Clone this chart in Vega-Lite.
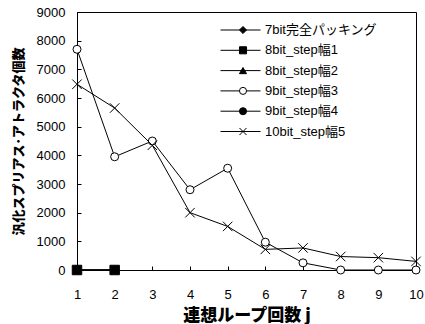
{
  "$schema": "https://vega.github.io/schema/vega-lite/v6.json",
  "width": 339,
  "height": 258,
  "autosize": {"type": "none"},
  "padding": {"left": 77, "top": 12, "right": 9, "bottom": 54},
  "background": "white",
  "config": {
    "view": {"stroke": "black", "strokeWidth": 1},
    "font": "'Liberation Sans', 'Noto Sans CJK JP'"
  },
  "data": {
    "values": [
      {"series": "7bit完全パッキング", "j": 1, "value": 0},
      {"series": "7bit完全パッキング", "j": 2, "value": 0},
      {"series": "8bit_step幅2", "j": 1, "value": 0},
      {"series": "8bit_step幅2", "j": 2, "value": 0},
      {"series": "9bit_step幅4", "j": 1, "value": 0},
      {"series": "9bit_step幅4", "j": 2, "value": 0},
      {"series": "8bit_step幅1", "j": 1, "value": 0},
      {"series": "8bit_step幅1", "j": 2, "value": 0},
      {"series": "9bit_step幅3", "j": 1, "value": 7700},
      {"series": "9bit_step幅3", "j": 2, "value": 3950},
      {"series": "9bit_step幅3", "j": 3, "value": 4500},
      {"series": "9bit_step幅3", "j": 4, "value": 2800},
      {"series": "9bit_step幅3", "j": 5, "value": 3550},
      {"series": "9bit_step幅3", "j": 6, "value": 970},
      {"series": "9bit_step幅3", "j": 7, "value": 250},
      {"series": "9bit_step幅3", "j": 8, "value": 0},
      {"series": "9bit_step幅3", "j": 9, "value": 0},
      {"series": "9bit_step幅3", "j": 10, "value": 0},
      {"series": "10bit_step幅5", "j": 1, "value": 6480},
      {"series": "10bit_step幅5", "j": 2, "value": 5650},
      {"series": "10bit_step幅5", "j": 3, "value": 4350},
      {"series": "10bit_step幅5", "j": 4, "value": 2000},
      {"series": "10bit_step幅5", "j": 5, "value": 1520},
      {"series": "10bit_step幅5", "j": 6, "value": 720},
      {"series": "10bit_step幅5", "j": 7, "value": 770},
      {"series": "10bit_step幅5", "j": 8, "value": 470},
      {"series": "10bit_step幅5", "j": 9, "value": 430},
      {"series": "10bit_step幅5", "j": 10, "value": 300}
    ]
  },
  "encoding": {
    "x": {
      "field": "j",
      "type": "quantitative",
      "scale": {"domain": [1, 10], "nice": false, "zero": false},
      "axis": {
        "values": [1, 2, 3, 4, 5, 6, 7, 8, 9, 10],
        "format": "d",
        "title": "連想ループ回数 j",
        "grid": false,
        "tickSize": -4,
        "tickColor": "black",
        "domainColor": "black",
        "labelColor": "black",
        "labelFontSize": 13,
        "labelFont": "'Liberation Sans'",
        "labelPadding": 22,
        "labelFlush": false,
        "titleFont": "'Noto Sans CJK JP'",
        "titleFontSize": 17,
        "titleFontWeight": 900,
        "titleColor": "black",
        "titlePadding": 6
      }
    },
    "y": {
      "field": "value",
      "type": "quantitative",
      "scale": {"domain": [0, 9000], "nice": false},
      "axis": {
        "values": [0, 1000, 2000, 3000, 4000, 5000, 6000, 7000, 8000, 9000],
        "format": "d",
        "title": "汎化スプリアス･アトラクタ個数",
        "grid": false,
        "tickSize": -4,
        "tickColor": "black",
        "domainColor": "black",
        "labelColor": "black",
        "labelFontSize": 13,
        "labelFont": "'Liberation Sans'",
        "labelPadding": 16,
        "titleFont": "'Noto Sans CJK JP'",
        "titleFontSize": 13,
        "titleFontWeight": 900,
        "titleColor": "black",
        "titlePadding": 11
      }
    }
  },
  "layer": [
    {
      "mark": {"type": "line", "strokeWidth": 1},
      "encoding": {
        "color": {
          "field": "series",
          "type": "nominal",
          "sort": ["7bit完全パッキング", "8bit_step幅1", "8bit_step幅2", "9bit_step幅3", "9bit_step幅4", "10bit_step幅5"],
          "scale": {"range": ["black", "black", "black", "black", "black", "black"]},
          "legend": {
            "orient": "none",
            "legendX": 143,
            "legendY": 10,
            "title": null,
            "padding": 0,
            "symbolType": "stroke",
            "symbolSize": 1600,
            "symbolStrokeWidth": 1,
            "symbolStrokeColor": "black",
            "labelFontSize": 13,
            "labelColor": "black",
            "labelFont": "'Liberation Sans', 'Noto Sans CJK JP'",
            "labelOffset": 4,
            "labelLimit": 200,
            "clipHeight": 16,
            "rowPadding": 4.3
          }
        }
      }
    },
    {
      "mark": {"type": "point", "filled": true, "opacity": 1, "strokeWidth": 1},
      "encoding": {
        "shape": {
          "field": "series",
          "type": "nominal",
          "scale": {
            "domain": ["7bit完全パッキング", "8bit_step幅1", "8bit_step幅2", "9bit_step幅3", "9bit_step幅4", "10bit_step幅5"],
            "range": ["diamond", "square", "triangle-up", "circle", "circle", "M-1,-1L1,1M-1,1L1,-1"]
          },
          "legend": {
            "orient": "none",
            "legendX": 159.5,
            "legendY": 10,
            "title": null,
            "padding": 0,
            "symbolSize": 50,
            "symbolStrokeWidth": 1,
            "symbolOpacity": 1,
            "labelFontSize": 13,
            "labelExpr": "''",
            "clipHeight": 16,
            "rowPadding": 4.3
          }
        },
        "fill": {
          "field": "series",
          "type": "nominal",
          "scale": {
            "domain": ["7bit完全パッキング", "8bit_step幅1", "8bit_step幅2", "9bit_step幅3", "9bit_step幅4", "10bit_step幅5"],
            "range": ["black", "black", "black", "white", "black", "black"]
          },
          "legend": {
            "orient": "none",
            "legendX": 159.5,
            "legendY": 10,
            "title": null,
            "padding": 0,
            "symbolSize": 50,
            "symbolStrokeWidth": 1,
            "symbolOpacity": 1,
            "labelFontSize": 13,
            "labelExpr": "''",
            "clipHeight": 16,
            "rowPadding": 4.3
          }
        },
        "stroke": {
          "field": "series",
          "type": "nominal",
          "scale": {
            "domain": ["7bit完全パッキング", "8bit_step幅1", "8bit_step幅2", "9bit_step幅3", "9bit_step幅4", "10bit_step幅5"],
            "range": ["black", "black", "black", "black", "black", "black"]
          },
          "legend": {
            "orient": "none",
            "legendX": 159.5,
            "legendY": 10,
            "title": null,
            "padding": 0,
            "symbolSize": 50,
            "symbolStrokeWidth": 1,
            "symbolOpacity": 1,
            "labelFontSize": 13,
            "labelExpr": "''",
            "clipHeight": 16,
            "rowPadding": 4.3
          }
        },
        "size": {
          "condition": {"test": "datum.series === '8bit_step幅1' || datum.series === '10bit_step幅5'", "value": 90},
          "value": 64
        }
      }
    }
  ]
}
